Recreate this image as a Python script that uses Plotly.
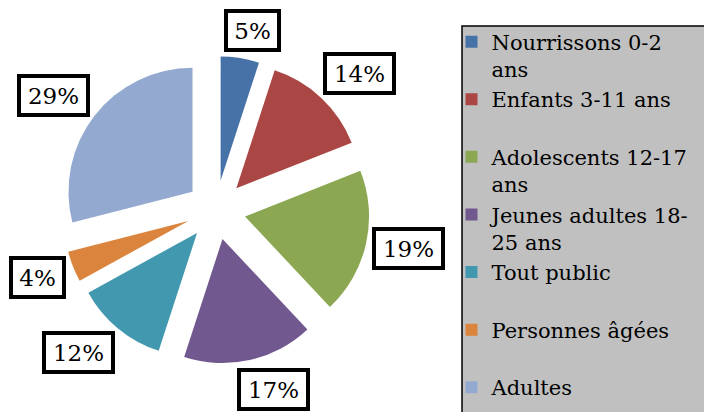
import math
import plotly.graph_objects as go

# ---- data ----
categories = [
    "Nourrissons 0-2<br>ans",
    "Enfants 3-11 ans<br> ",
    "Adolescents 12-17<br>ans",
    "Jeunes adultes 18-<br>25 ans",
    "Tout public<br> ",
    "Personnes âgées<br> ",
    "Adultes",
]
values = [5, 14, 19, 17, 12, 4, 29]
pct_labels = ["5%", "14%", "19%", "17%", "12%", "4%", "29%"]
colors = ["#4672A8", "#AA4644", "#8BA752", "#71588F", "#4198AF", "#DB843D", "#94A9CF"]

# label placement nudges (degrees) to mimic the original label layout
label_nudge_deg = [2.6, 3.2, -1.2, -5.3, 4.4, 1.0, -2.6]

# ---- geometry (pixels) ----
W, H = 704, 412
cx, cy = 216, 210          # pie centre in pixels from top-left
R = 124                    # slice radius
pull = 0.24
outer = R * (1 + pull)

dom_y = [1 - (cy + outer) / H, 1 - (cy - outer) / H]
dom_x = [(cx - 175) / W, (cx + 175) / W]

fig = go.Figure(go.Pie(
    labels=categories,
    values=values,
    sort=False,
    direction="clockwise",
    rotation=0,
    pull=[pull] * len(values),
    marker=dict(colors=colors, line=dict(width=0)),
    textinfo="none",
    hoverinfo="label+percent",
    domain=dict(x=dom_x, y=dom_y),
))

# boxed percentage labels, placed just outside each slice's outer end
total = sum(values)
cum = 0
bw, pad = 4, 1
for v, lab, nud in zip(values, pct_labels, label_nudge_deg):
    mid = (cum + v / 2) / total * 2 * math.pi
    cum += v
    ang = mid + math.radians(nud)
    digits = len(lab) - 1
    ow = 41 + 16 * digits      # outer box width
    oh = 43                    # outer box height
    half = abs(ow / 2 * math.sin(ang)) + abs(oh / 2 * math.cos(ang))
    d = outer + half + 3
    px = cx + d * math.sin(ang)
    py = cy - d * math.cos(ang)
    fig.add_annotation(
        x=px / W, y=1 - py / H, xref="paper", yref="paper",
        xanchor="center", yanchor="middle",
        text=lab, showarrow=False,
        font=dict(family="DejaVu Serif", size=23, color="black"),
        bgcolor="white", bordercolor="black", borderwidth=bw, borderpad=pad,
        width=ow - 2 * (bw + pad), height=oh - 2 * (bw + pad),
    )

# legend frame (extends past the right and bottom edges like the original)
fig.add_shape(
    type="rect", xref="paper", yref="paper",
    x0=462 / W, x1=720 / W, y0=-20 / H, y1=1 - 26 / H,
    fillcolor="#C0C0C0", line=dict(color="black", width=1.5), layer="below",
)

fig.update_layout(
    width=W, height=H,
    margin=dict(l=0, r=0, t=0, b=0, autoexpand=False),
    paper_bgcolor="white",
    plot_bgcolor="white",
    showlegend=True,
    legend=dict(
        x=451.5 / W, y=1 - 21.5 / H, xanchor="left", yanchor="top",
        bgcolor="rgba(0,0,0,0)", borderwidth=0,
        font=dict(family="DejaVu Serif", size=21, color="black"),
        valign="top",
        traceorder="normal",
    ),
)

fig.write_html(
    "out.html",
    config={"displayModeBar": False},
    post_script="document.body.style.margin='0';",
)
